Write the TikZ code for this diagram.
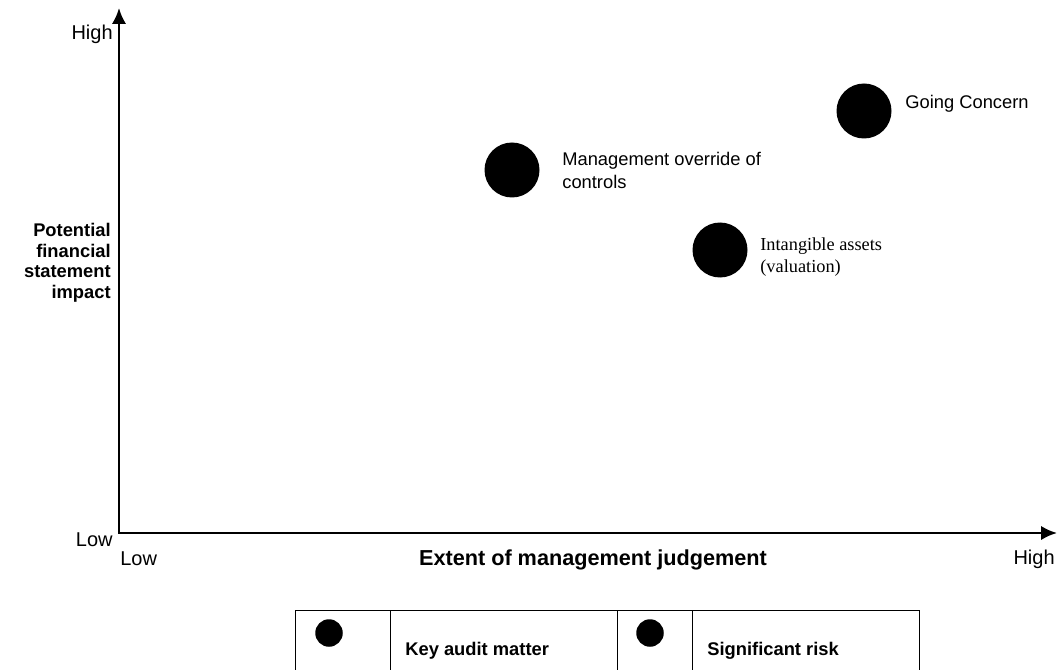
\documentclass[tikz,border=0pt]{standalone}
\usepackage{fontspec}
\setmainfont{Liberation Serif}
\setsansfont{Liberation Sans}
\usetikzlibrary{arrows.meta}

\begin{document}
\begin{tikzpicture}[
    x=0.6pt, y=-0.6pt,
    font=\sffamily,
    axis/.style={black, line width=1.4pt, line join=miter,
                 {Latex[length=9.5pt,width=8.5pt]}-{Latex[length=9.5pt,width=8.5pt]}},
    risk/.style={circle, fill=black, inner sep=0pt, minimum size=33pt},
    keydot/.style={circle, fill=black, inner sep=0pt, minimum size=16.5pt},
    endlabel/.style={inner sep=0pt, font=\sffamily\fontsize{12}{14}\selectfont},
    axistitle/.style={inner sep=0pt, font=\sffamily\bfseries\fontsize{11}{12.3}\selectfont},
    riskname/.style={inner sep=0pt, align=left, font=\sffamily\fontsize{11}{13.8}\selectfont},
    keyname/.style={inner sep=0pt, font=\sffamily\bfseries\fontsize{11}{13}\selectfont},
    keyline/.style={black, line width=0.6pt}
]

\useasboundingbox (0,0) rectangle (1060,670);

% axes
\coordinate (origin) at (119,533);
\coordinate (ytop) at (119,8);
\coordinate (xend) at (1057,533);
\draw[axis] (ytop) -- (origin) -- (xend);

\node[endlabel, anchor=base east] (yHigh) at (113,40) {High};
\node[endlabel, anchor=base east] (yLow) at (113,546) {Low};
\node[endlabel, anchor=base west] (xLow) at (120,565) {Low};
\node[endlabel, anchor=base east] (xHigh) at (1055,564) {High};

\node[axistitle, anchor=north east, align=right] (yTitle) at (111,223)
    {Potential\\financial\\statement\\impact};
\node[axistitle, font=\sffamily\bfseries\fontsize{13}{15}\selectfont, anchor=base]
    (xTitle) at (593,565) {Extent of management judgement};

% risks
\node[risk] (override) at (512,170) {};
\node[risk] (intangible) at (720,250) {};
\node[risk] (concern) at (864,111) {};

\node[riskname, anchor=north west] (overrideText) at (562,152)
    {Management override of\\controls};
\node[riskname, anchor=north west] (concernText) at (905,95) {Going Concern};
\node[riskname, font=\rmfamily\fontsize{11}{13.2}\selectfont, anchor=north west]
    (intangibleText) at (760,237) {Intangible assets\\(valuation)};

% key
\draw[keyline] (295,670) |- (919,610) -- (919,670);
\foreach \x in {390,617,692}
    \draw[keyline] (\x,610) -- (\x,670);

\node[keydot] (kamDot) at (329,633) {};
\node[keyname, anchor=base west] (kamText) at (405,655) {Key audit matter};
\node[keydot] (sigDot) at (650,633) {};
\node[keyname, anchor=base west] (sigText) at (707,655) {Significant risk};

\end{tikzpicture}
\end{document}
